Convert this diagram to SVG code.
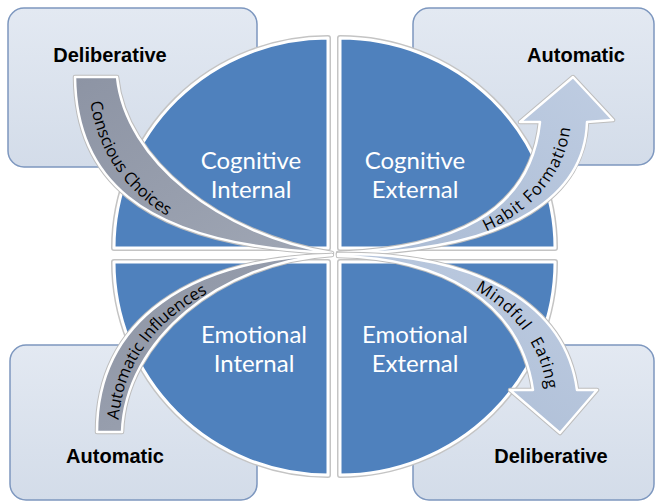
<svg xmlns="http://www.w3.org/2000/svg" width="656" height="502" viewBox="0 0 656 502">
<defs>
<linearGradient id="boxg" x1="0" y1="0" x2="0" y2="1">
<stop offset="0" stop-color="#e3e9f2"/>
<stop offset="1" stop-color="#d3dce9"/>
</linearGradient>
<linearGradient id="greyg" x1="0" y1="0" x2="1" y2="1">
<stop offset="0" stop-color="#8d94a4"/>
<stop offset="1" stop-color="#a0a7b5"/>
</linearGradient>
<linearGradient id="blueg" x1="0" y1="1" x2="1" y2="0">
<stop offset="0" stop-color="#a9bad3"/>
<stop offset="1" stop-color="#bfcde2"/>
</linearGradient>
<path id="tpCC" d="M88,78 C 92,178 160,248 332,259"/>
<path id="tpAI" d="M118,432 C 119,334 202,270 334,261"/>
<path id="tpHF" d="M340,260 C 467,258 563,213 571,122"/>
<path id="tpME" d="M338,259 C 451,259 538,307 547,392"/>
</defs>
<style>
.box{fill:url(#boxg);stroke:#7d97bf;stroke-width:1.5}
.blab{font-family:"Liberation Sans",Arial,sans-serif;font-weight:bold;font-size:20px;fill:#000;text-anchor:middle}
.qsh{fill:none;stroke:#c4c4c4;stroke-width:6;stroke-linejoin:round}
.q{fill:#4f81bd;stroke:#ffffff;stroke-width:3;stroke-linejoin:round}
.qlab{font-family:Lato,"Open Sans",sans-serif;font-size:24px;fill:#ffffff;text-anchor:middle}
.ash{fill:none;stroke:#bdbdbd;stroke-width:4.5;stroke-linejoin:round}
.ag{fill:url(#greyg);stroke:#ffffff;stroke-width:2.5;stroke-linejoin:round}
.ab{fill:url(#blueg);stroke:#ffffff;stroke-width:2.5;stroke-linejoin:round}
.alab{font-family:"Open Sans","Noto Sans",sans-serif;font-size:16.5px;fill:#000}
</style>

<g id="box-tl"><rect class="box" x="8" y="8" width="249" height="159" rx="16"/><text class="blab" x="110" y="62">Deliberative</text></g>
<g id="box-tr"><rect class="box" x="413" y="8" width="241" height="157" rx="16"/><text class="blab" x="576" y="62">Automatic</text></g>
<g id="box-bl"><rect class="box" x="10" y="345" width="247" height="155" rx="16"/><text class="blab" x="115" y="463">Automatic</text></g>
<g id="box-br"><rect class="box" x="413" y="345" width="241" height="155" rx="16"/><text class="blab" x="551" y="463">Deliberative</text></g>

<g id="q-ci">
<path class="qsh" d="M328,248 L114,248 A214,210 0 0 1 328,38 Z"/>
<path class="q" d="M328,248 L114,248 A214,210 0 0 1 328,38 Z"/>
<text class="qlab"><tspan x="251" y="169">Cognitive</tspan><tspan x="251" y="198">Internal</tspan></text>
</g>
<g id="q-ce">
<path class="qsh" d="M340,248 L340,38 A215,210 0 0 1 555,248 Z"/>
<path class="q" d="M340,248 L340,38 A215,210 0 0 1 555,248 Z"/>
<text class="qlab"><tspan x="415" y="169">Cognitive</tspan><tspan x="415" y="198">External</tspan></text>
</g>
<g id="q-ei">
<path class="qsh" d="M328,262 L114,262 A214,213 0 0 0 328,475 Z"/>
<path class="q" d="M328,262 L114,262 A214,213 0 0 0 328,475 Z"/>
<text class="qlab"><tspan x="254" y="343">Emotional</tspan><tspan x="254" y="372">Internal</tspan></text>
</g>
<g id="q-ee">
<path class="qsh" d="M340,262 L555,262 A215,213 0 0 1 340,475 Z"/>
<path class="q" d="M340,262 L555,262 A215,213 0 0 1 340,475 Z"/>
<text class="qlab"><tspan x="415" y="343">Emotional</tspan><tspan x="415" y="372">External</tspan></text>
</g>

<g id="connectors">
<g id="a-cc">
<path class="ash" d="M75,77 L117,77 C 125,160 220,235 332,253 C 130,245 76,170 75,77 Z"/>
<path class="ag" d="M75,77 L117,77 C 125,160 220,235 332,253 C 130,245 76,170 75,77 Z"/>
<text class="alab"><textPath href="#tpCC" startOffset="24">Conscious Choices</textPath></text>
</g>
<g id="a-ai">
<path class="ash" d="M97,432 C 97,320 190,258 332,255 C 220,262 125,340 122,432 Z"/>
<path class="ag" d="M97,432 C 97,320 190,258 332,255 C 220,262 125,340 122,432 Z"/>
<text class="alab" font-size="16"><textPath href="#tpAI" startOffset="12">Automatic Influences</textPath></text>
</g>
<g id="a-hf">
<path class="ash" d="M338,253 C 450,248 530,215 540,122 L520,122 L573,77 L613,120 L587,122 C 585,190 520,252 338,254 Z"/>
<path class="ab" d="M338,253 C 450,248 530,215 540,122 L520,122 L573,77 L613,120 L587,122 C 585,190 520,252 338,254 Z"/>
<text class="alab" letter-spacing="1"><textPath href="#tpHF" startOffset="150">Habit Formation</textPath></text>
</g>
<g id="a-me">
<path class="ash" d="M338,256 C 440,258 520,300 533,390 L510,390 L560,433 L597,390 L577,390 C 565,300 470,252 338,254 Z"/>
<path class="ab" d="M338,256 C 440,258 520,300 533,390 L510,390 L560,433 L597,390 L577,390 C 565,300 470,252 338,254 Z"/>
<text class="alab" letter-spacing="0.8" word-spacing="6"><textPath href="#tpME" startOffset="142">Mindful Eating</textPath></text>
</g>
</g>
</svg>
